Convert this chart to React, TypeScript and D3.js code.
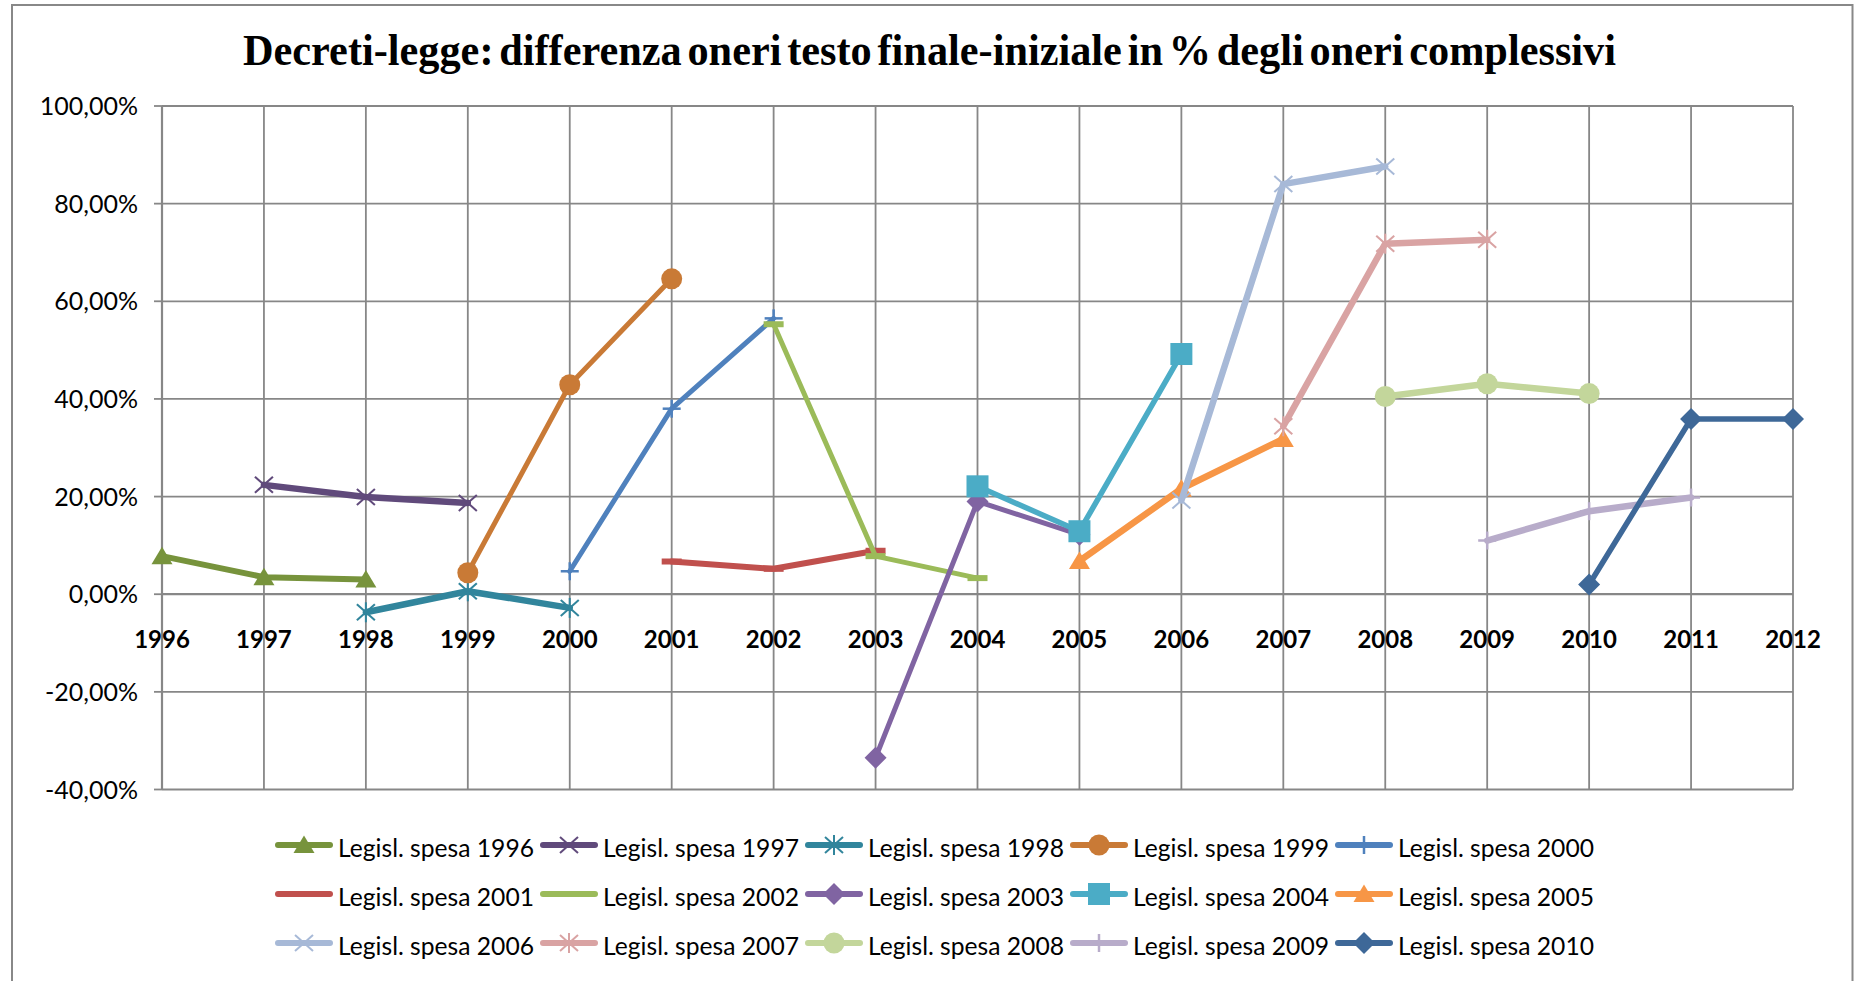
import React from 'react';
import * as d3 from 'd3';

const titleText = 'Decreti-legge: differenza oneri testo finale-iniziale in % degli oneri complessivi';

const yearTicks = [1996, 1997, 1998, 1999, 2000, 2001, 2002, 2003, 2004, 2005, 2006, 2007, 2008, 2009, 2010, 2011, 2012];
const yTicks = [-40, -20, 0, 20, 40, 60, 80, 100];

// series: start year and values (%) for three consecutive years
const seriesNames = [
  'Legisl. spesa 1996', 'Legisl. spesa 1997', 'Legisl. spesa 1998', 'Legisl. spesa 1999', 'Legisl. spesa 2000',
  'Legisl. spesa 2001', 'Legisl. spesa 2002', 'Legisl. spesa 2003', 'Legisl. spesa 2004', 'Legisl. spesa 2005',
  'Legisl. spesa 2006', 'Legisl. spesa 2007', 'Legisl. spesa 2008', 'Legisl. spesa 2009', 'Legisl. spesa 2010',
];
const seriesStart = [1996, 1997, 1998, 1999, 2000, 2001, 2002, 2003, 2004, 2005, 2006, 2007, 2008, 2009, 2010];

const s1996 = [7.8, 3.5, 3.0];
const s1997 = [22.4, 19.9, 18.7];
const s1998 = [-3.7, 0.6, -2.8];
const s1999 = [4.4, 42.9, 64.6];
const s2000 = [4.7, 38.0, 56.5];
const s2001 = [6.7, 5.2, 8.9];
const s2002 = [55.3, 7.8, 3.3];
const s2003 = [-33.5, 19.0, 12.2];
const s2004 = [22.1, 12.9, 49.2];
const s2005 = [6.8, 21.6, 31.8];
const s2006 = [19.2, 84.0, 87.6];
const s2007 = [34.4, 71.8, 72.6];
const s2008 = [40.5, 43.1, 41.1];
const s2009 = [11.0, 17.0, 19.8];
const s2010 = [2.0, 35.9, 35.9];

const seriesValues = [s1996, s1997, s1998, s1999, s2000, s2001, s2002, s2003, s2004, s2005, s2006, s2007, s2008, s2009, s2010];

const seriesColors = [
  '#77933C', '#604A7B', '#31859C', '#C97A36', '#4F81BD',
  '#C0504D', '#9BBB59', '#8064A2', '#4BACC6', '#F79646',
  '#A7B9D7', '#D9A3A3', '#C3D69B', '#B8ACCA', '#3E6898',
];
const seriesMarkers = [
  'triangle', 'x', 'star', 'circle', 'plus',
  'dash', 'dash', 'diamond', 'square', 'triangle',
  'x', 'star', 'circle', 'plus', 'diamond',
];
const seriesWidths = [6, 6.5, 6.5, 5, 5, 6, 5, 5, 5.5, 6.5, 6.5, 6.5, 6.5, 6.5, 5.5];

const W = 1857;
const H = 981;
const plotLeft = 162;
const plotRight = 1793;
const plotTop = 106;
const plotBottom = 789.5;

const gridColor = '#878787';
const sans = 'Lato, "Open Sans", sans-serif';

function Marker({ type, x, y, color }: { type: string; x: number; y: number; color: string }) {
  const t = `translate(${x},${y})`;
  switch (type) {
    case 'triangle':
      return <path transform={t} d="M0,-9.5 L10.5,8 L-10.5,8 Z" fill={color} />;
    case 'circle':
      return <circle cx={x} cy={y} r={10.5} fill={color} />;
    case 'square':
      return <rect x={x - 11} y={y - 11} width={22} height={22} fill={color} />;
    case 'diamond':
      return <path transform={t} d="M0,-11 L11,0 L0,11 L-11,0 Z" fill={color} />;
    case 'dash':
      return <rect x={x - 10} y={y - 3} width={20} height={6} fill={color} />;
    case 'x':
      return (
        <g transform={t} stroke={color} strokeWidth={2}>
          <line x1={-9} y1={-8} x2={9} y2={8} />
          <line x1={-9} y1={8} x2={9} y2={-8} />
        </g>
      );
    case 'star':
      return (
        <g transform={t} stroke={color} strokeWidth={2}>
          <line x1={-9} y1={-8} x2={9} y2={8} />
          <line x1={-9} y1={8} x2={9} y2={-8} />
          <line x1={0} y1={-10} x2={0} y2={10} />
        </g>
      );
    case 'plus':
      return (
        <g transform={t} stroke={color} strokeWidth={2.5}>
          <line x1={-9} y1={0} x2={9} y2={0} />
          <line x1={0} y1={-9} x2={0} y2={9} />
        </g>
      );
    default:
      return null;
  }
}

export default function App() {
  const x = d3.scaleLinear().domain([1996, 2012]).range([plotLeft, plotRight]);
  const y = d3.scaleLinear().domain([-40, 100]).range([plotBottom, plotTop]);
  const line = d3
    .line<[number, number]>()
    .x((d) => x(d[0]))
    .y((d) => y(d[1]));

  const fmt = (v: number) => v.toFixed(2).replace('.', ',') + '%';

  const legendX0 = 275;
  const legendDX = 265;
  const legendY0 = 845;
  const legendDY = 49;

  return (
    <div style={{ position: 'absolute', left: 0, top: 0 }}>
      <svg width={W} height={H} viewBox={`0 0 ${W} ${H}`} style={{ display: 'block', background: '#fff' }}>
        <rect x={0} y={0} width={W} height={H} fill="#fff" />
        {/* outer frame */}
        <rect x={12} y={5} width={1840.5} height={H + 20} fill="none" stroke="#888" strokeWidth={2} />

        {/* title */}
        <text
          x={243}
          y={65}
          textLength={1373}
          lengthAdjust="spacingAndGlyphs"
          fontFamily='"Liberation Serif", "Times New Roman", serif'
          fontWeight="bold"
          fontSize={44}
          wordSpacing={-5}
          fill="#000"
        >
          {titleText}
        </text>

        {/* horizontal gridlines */}
        {yTicks.map((t) => (
          <line key={'h' + t} x1={plotLeft} x2={plotRight} y1={y(t)} y2={y(t)} stroke={gridColor} strokeWidth={t === 0 ? 2.2 : 1.8} />
        ))}
        {/* vertical gridlines */}
        {yearTicks.map((yr) => (
          <line key={'v' + yr} x1={x(yr)} x2={x(yr)} y1={plotTop} y2={plotBottom} stroke={gridColor} strokeWidth={yr === 1996 ? 2.2 : 1.8} />
        ))}
        {/* y axis ticks */}
        {yTicks.map((t) => (
          <line key={'yt' + t} x1={plotLeft - 8} x2={plotLeft} y1={y(t)} y2={y(t)} stroke={gridColor} strokeWidth={1.8} />
        ))}
        {/* y labels */}
        {yTicks.map((t) => (
          <text key={'yl' + t} x={138} y={y(t) + 9} textAnchor="end" fontFamily={sans} fontSize={25} fill="#000">
            {fmt(t)}
          </text>
        ))}
        {/* x labels */}
        {yearTicks.map((yr) => (
          <text key={'xl' + yr} x={x(yr)} y={648} textAnchor="middle" fontFamily={sans} fontWeight="bold" fontSize={24} fill="#000">
            {yr}
          </text>
        ))}

        {/* series */}
        {seriesValues.map((vals, i) => {
          const pts: [number, number][] = vals.map((v, k) => [seriesStart[i] + k, v]);
          return (
            <g key={'s' + i}>
              <path
                d={line(pts) || ''}
                fill="none"
                stroke={seriesColors[i]}
                strokeWidth={seriesWidths[i]}
                strokeLinejoin="round"
                strokeLinecap="round"
              />
              {pts.map((p, k) => (
                <Marker key={k} type={seriesMarkers[i]} x={x(p[0])} y={y(p[1])} color={seriesColors[i]} />
              ))}
            </g>
          );
        })}

        {/* legend */}
        {seriesNames.map((name, i) => {
          const col = i % 5;
          const row = Math.floor(i / 5);
          const lx = legendX0 + col * legendDX;
          const ly = legendY0 + row * legendDY;
          return (
            <g key={'lg' + i}>
              <line x1={lx + 3} x2={lx + 55} y1={ly} y2={ly} stroke={seriesColors[i]} strokeWidth={6} strokeLinecap="round" />
              <Marker type={seriesMarkers[i]} x={lx + 29} y={ly} color={seriesColors[i]} />
              <text x={lx + 63} y={ly + 11.5} fontFamily={sans} fontSize={25} fill="#000" textLength={196} lengthAdjust="spacingAndGlyphs">
                {name}
              </text>
            </g>
          );
        })}
      </svg>
    </div>
  );
}
